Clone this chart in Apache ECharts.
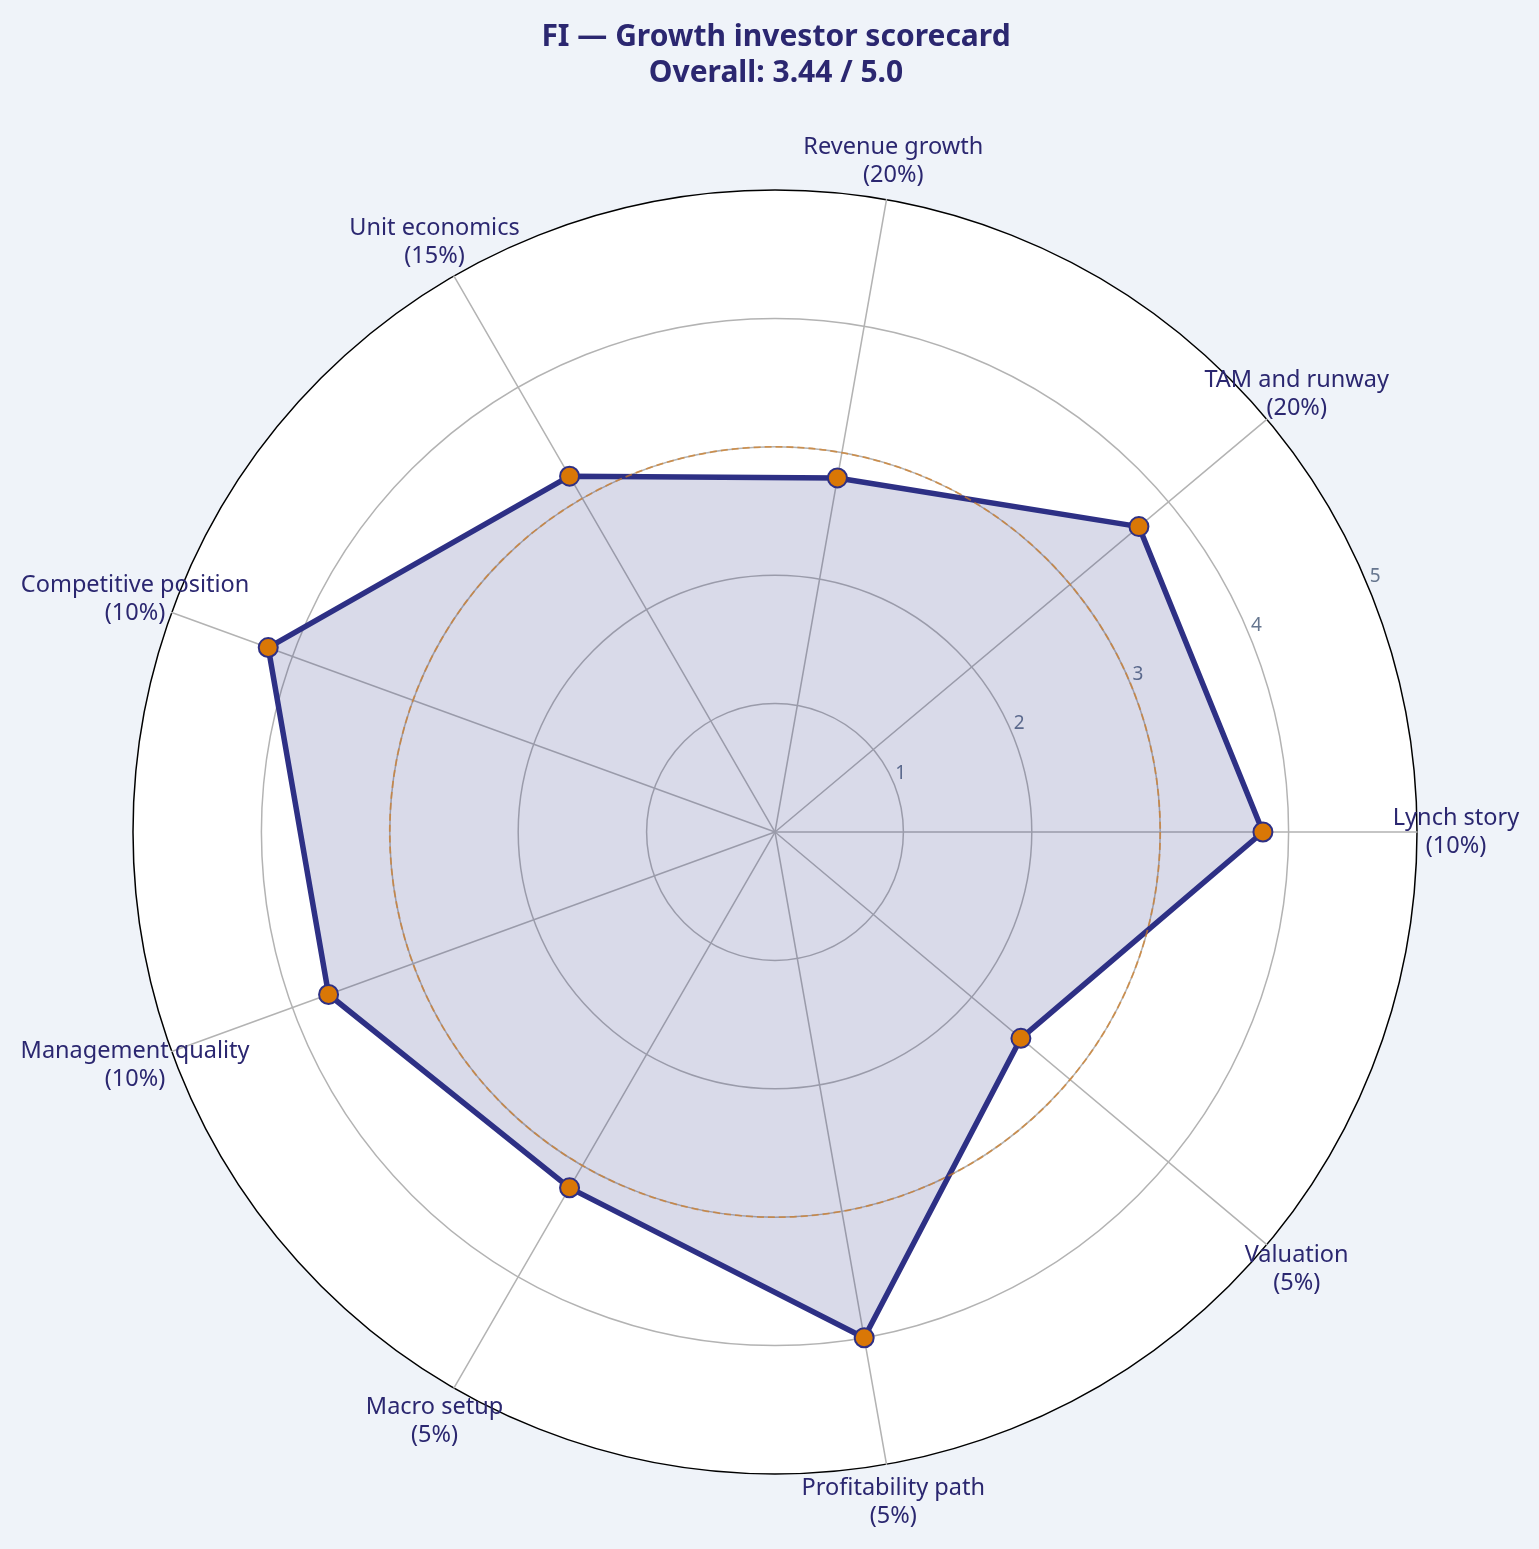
<!DOCTYPE html>
<html lang="en">
<head>
    <meta charset="UTF-8">
    <title>FI Growth investor scorecard</title>
    <script src="https://cdn.jsdelivr.net/npm/echarts@6/dist/echarts.min.js"></script>
    <style>
        html, body { margin: 0; padding: 0; background: #eff3f9; }
    </style>
</head>
<body>
    <div id="main" style="width: 1539px; height: 1549px;"></div>
    <script>
        // scorecard data
        const criteria = ['Lynch story', 'TAM and runway', 'Revenue growth', 'Unit economics',
            'Competitive position', 'Management quality', 'Macro setup', 'Profitability path', 'Valuation'];
        const weights = [10, 20, 20, 15, 10, 10, 5, 5, 5];
        const scores = [3.8, 3.7, 2.8, 3.2, 4.2, 3.7, 3.2, 4.0, 2.5];
        const scoreMax = 5;
        const threshold = 3;
        const overall = '3.44';

        const myChart = echarts.init(document.getElementById('main'));

        const center = [775, 832];
        const R = 642;
        const font = 'Noto Sans';
        const navy = '#2e3085';
        const textNavy = '#2b2770';
        const grid = '#b3b3b3';

        const hidden = { show: false };

        const options = {
            backgroundColor: '#eff3f9',
            textStyle: { fontFamily: font },
            title: {
                text: 'FI — Growth investor scorecard\nOverall: ' + overall + ' / ' + scoreMax.toFixed(1),
                left: 771,
                textAlign: 'center',
                top: 14,
                textStyle: {
                    fontFamily: font,
                    fontSize: 30,
                    fontWeight: 'bold',
                    color: textNavy,
                    lineHeight: 36
                }
            },
            radar: {
                center: center,
                radius: R,
                startAngle: 0,
                shape: 'circle',
                splitNumber: scoreMax,
                indicator: criteria.map(function (c) { return { name: c, max: scoreMax, min: 0 }; }),
                nameGap: 39,
                axisName: {
                    show: true,
                    align: 'center',
                    verticalAlign: 'middle',
                    fontFamily: font,
                    fontSize: 23.5,
                    lineHeight: 28,
                    color: textNavy,
                    formatter: function (name) {
                        return name + '\n(' + weights[criteria.indexOf(name)] + '%)';
                    }
                },
                axisLine: { show: true, lineStyle: { color: grid, width: 1.5 } },
                splitLine: {
                    show: true,
                    lineStyle: { color: [grid, grid, grid, grid, grid, '#000'], width: 1.5 }
                },
                splitArea: { show: true, areaStyle: { color: ['#ffffff'] } },
                axisTick: hidden,
                axisLabel: hidden
            },
            polar: [
                { center: center, radius: R * threshold / scoreMax },
                { center: [789, 826], radius: R }
            ],
            angleAxis: [
                {
                    polarIndex: 0,
                    type: 'value',
                    startAngle: 0,
                    axisLine: hidden, axisTick: hidden, axisLabel: hidden, splitLine: hidden
                },
                {
                    polarIndex: 1,
                    type: 'value',
                    startAngle: 22.5,
                    axisLine: hidden, axisTick: hidden, axisLabel: hidden, splitLine: hidden
                }
            ],
            radiusAxis: [
                {
                    polarIndex: 0,
                    min: 0,
                    max: threshold,
                    interval: threshold,
                    z: 5,
                    axisLine: hidden,
                    axisTick: hidden,
                    axisLabel: hidden,
                    splitLine: {
                        show: true,
                        lineStyle: { color: 'rgba(210,125,35,0.7)', width: 1.8, type: [7, 4] }
                    }
                },
                {
                    polarIndex: 1,
                    min: 0,
                    max: scoreMax,
                    interval: 1,
                    axisLine: hidden,
                    axisTick: hidden,
                    splitLine: hidden,
                    axisLabel: {
                        show: true,
                        showMinLabel: false,
                        margin: 4,
                        fontFamily: font,
                        fontSize: 19,
                        color: '#66768f'
                    }
                }
            ],
            series: [
                {
                    type: 'radar',
                    radarIndex: 0,
                    z: 3,
                    symbol: 'circle',
                    symbolSize: 19,
                    lineStyle: { color: navy, width: 5.5 },
                    itemStyle: { color: '#d97706', borderColor: navy, borderWidth: 2 },
                    areaStyle: { color: 'rgba(46,48,133,0.18)', opacity: 1 },
                    data: [{ value: scores, name: 'Score' }]
                }
            ]
        };

        myChart.setOption(options);
    </script>
</body>
</html>
